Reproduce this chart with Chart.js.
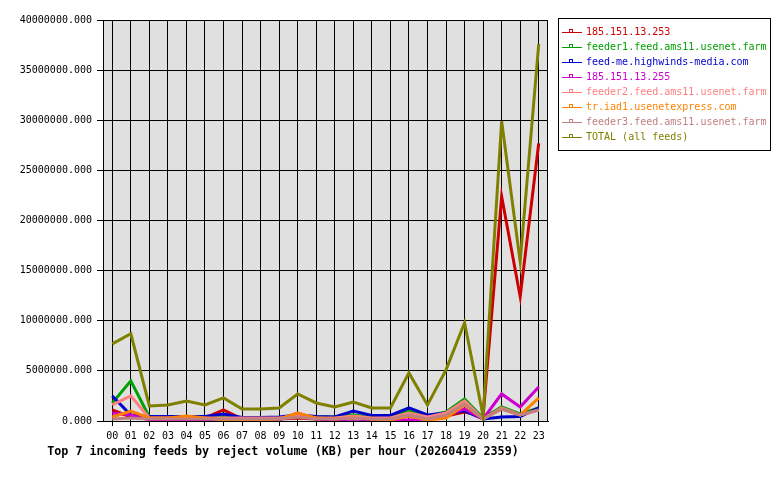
<!DOCTYPE html>
<html>
<head>
<meta charset="utf-8">
<script src="https://cdn.jsdelivr.net/npm/chart.js@4/dist/chart.umd.min.js"></script>
<style>
    html, body { margin: 0; padding: 0; background: #fff; }
    #feedChart { display: block; }
</style>
</head>
<body>
<canvas id="feedChart" width="780" height="480"></canvas>
<script>
// --- Data (KB rejected per hour) ---
const hours = ['00','01','02','03','04','05','06','07','08','09','10','11',
               '12','13','14','15','16','17','18','19','20','21','22','23'];

const yTicks = [0, 5000000, 10000000, 15000000, 20000000, 25000000, 30000000, 35000000, 40000000];

const feedNames = [
    '185.151.13.253',
    'feeder1.feed.ams11.usenet.farm',
    'feed-me.highwinds-media.com',
    '185.151.13.255',
    'feeder2.feed.ams11.usenet.farm',
    'tr.iad1.usenetexpress.com',
    'feeder3.feed.ams11.usenet.farm',
    'TOTAL (all feeds)'
];

const feedColors = ['#cc0000', '#00a000', '#0000cc', '#cc00cc', '#ff8080', '#ff8000', '#c08080', '#808000'];

const ip253 = [1100000, 400000, 200000, 200000, 200000, 300000, 1100000, 200000, 200000, 200000, 300000, 200000,
               200000, 300000, 200000, 200000, 500000, 300000, 500000, 900000, 500000, 22400000, 12400000, 27700000];
const feeder1 = [1800000, 4000000, 400000, 300000, 300000, 300000, 400000, 300000, 300000, 300000, 500000, 400000,
                 400000, 600000, 400000, 400000, 1000000, 500000, 900000, 2200000, 300000, 1400000, 700000, 1300000];
const highwinds = [2500000, 600000, 450000, 450000, 450000, 450000, 700000, 350000, 350000, 400000, 600000, 450000,
                   400000, 1000000, 550000, 550000, 1300000, 600000, 800000, 1000000, 200000, 400000, 450000, 1300000];
const ip255 = [800000, 600000, 100000, 100000, 100000, 100000, 100000, 100000, 100000, 100000, 800000, 200000,
               100000, 200000, 100000, 100000, 100000, 200000, 600000, 1200000, 200000, 2700000, 1400000, 3400000];
const feeder2 = [1600000, 2500000, 300000, 300000, 300000, 300000, 300000, 300000, 300000, 300000, 500000, 300000,
                 300000, 500000, 300000, 300000, 800000, 400000, 800000, 2000000, 200000, 1300000, 600000, 1100000];
const usenetexpress = [400000, 1000000, 300000, 300000, 500000, 300000, 100000, 100000, 100000, 200000, 800000, 300000,
                       200000, 300000, 200000, 100000, 500000, 100000, 300000, 1600000, 200000, 1200000, 600000, 2300000];
const feeder3 = [200000, 300000, 200000, 200000, 200000, 200000, 200000, 200000, 200000, 200000, 400000, 200000,
                 200000, 300000, 200000, 200000, 600000, 200000, 600000, 1700000, 200000, 1200000, 600000, 1100000];
const totalAll = [7700000, 8700000, 1500000, 1600000, 2000000, 1600000, 2300000, 1200000, 1200000, 1300000, 2700000, 1800000,
                  1400000, 1900000, 1300000, 1300000, 4800000, 1600000, 5100000, 9800000, 500000, 29900000, 15900000, 37600000];

const seriesValues = [ip253, feeder1, highwinds, ip255, feeder2, usenetexpress, feeder3, totalAll];

const chartTitle = 'Top 7 incoming feeds by reject volume (KB) per hour (20260419 2359)';

// --- Plugins ---
const plotFrame = {
    id: 'plotFrame',
    beforeDraw(chart) {
        const { ctx, chartArea: a } = chart;
        ctx.save();
        ctx.fillStyle = '#fff';
        ctx.fillRect(0, 0, chart.width, chart.height);
        ctx.fillStyle = '#e0e0e0';
        ctx.fillRect(a.left, a.top, a.right - a.left, a.bottom - a.top);
        ctx.restore();
    },
    afterDraw(chart) {
        const { ctx, chartArea: a } = chart;
        ctx.save();
        ctx.strokeStyle = '#000';
        ctx.lineWidth = 1;
        ctx.strokeRect(Math.round(a.left) + 0.5, Math.round(a.top) + 0.5,
            Math.round(a.right - a.left) - 1, Math.round(a.bottom - a.top));

        // legend box
        ctx.fillStyle = '#fff';
        ctx.fillRect(558, 18, 212, 132);
        ctx.strokeRect(558.5, 18.5, 212, 132);
        ctx.font = '10px "DejaVu Sans Mono"';
        ctx.textBaseline = 'middle';
        ctx.textAlign = 'left';
        feedNames.forEach((name, i) => {
            const y = Math.round(32 + i * 15.05) + 0.5;
            ctx.strokeStyle = feedColors[i];
            ctx.beginPath();
            ctx.moveTo(562, y);
            ctx.lineTo(582, y);
            ctx.stroke();
            ctx.strokeRect(569.5, y - 3, 3, 3);
            ctx.fillStyle = feedColors[i];
            ctx.fillText(name, 586, y);
        });

        // title
        ctx.fillStyle = '#000';
        ctx.font = 'bold 11.7px "DejaVu Sans Mono"';
        ctx.textAlign = 'center';
        ctx.fillText(chartTitle, 283, 452);
        ctx.restore();
    }
};

// --- Chart ---
Chart.defaults.font.family = '"DejaVu Sans Mono", monospace';
Chart.defaults.font.size = 10;
Chart.defaults.color = '#000';

const ctx = document.getElementById('feedChart').getContext('2d');
new Chart(ctx, {
    type: 'line',
    data: {
        labels: hours,
        datasets: seriesValues.map((vals, i) => ({
            label: feedNames[i],
            data: vals,
            borderColor: feedColors[i],
            backgroundColor: feedColors[i],
            borderWidth: 3,
            pointRadius: 0,
            tension: 0,
            fill: false,
            order: seriesValues.length - i
        }))
    },
    options: {
        responsive: false,
        animation: false,
        devicePixelRatio: 1,
        layout: { padding: { top: 20, right: 232, bottom: 39, left: 0 } },
        plugins: {
            legend: { display: false },
            title: { display: false },
            tooltip: { enabled: false }
        },
        scales: {
            x: {
                offset: true,
                afterFit: s => { s.height = 20; },
                grid: { offset: false, color: '#000', lineWidth: 1, drawTicks: true, tickLength: 5 },
                border: { color: '#000', width: 1 },
                ticks: { padding: 4, maxRotation: 0, autoSkip: false, font: { size: 10 } }
            },
            y: {
                min: 0,
                max: 40000000,
                afterFit: s => { s.width = 103; },
                afterBuildTicks: s => { s.ticks = yTicks.map(v => ({ value: v })); },
                grid: { color: '#000', lineWidth: 1, drawTicks: true, tickLength: 6 },
                border: { color: '#000', width: 1 },
                ticks: { padding: 5, callback: v => Number(v).toFixed(3), font: { size: 10 } }
            }
        }
    },
    plugins: [plotFrame]
});
</script>
</body>
</html>
